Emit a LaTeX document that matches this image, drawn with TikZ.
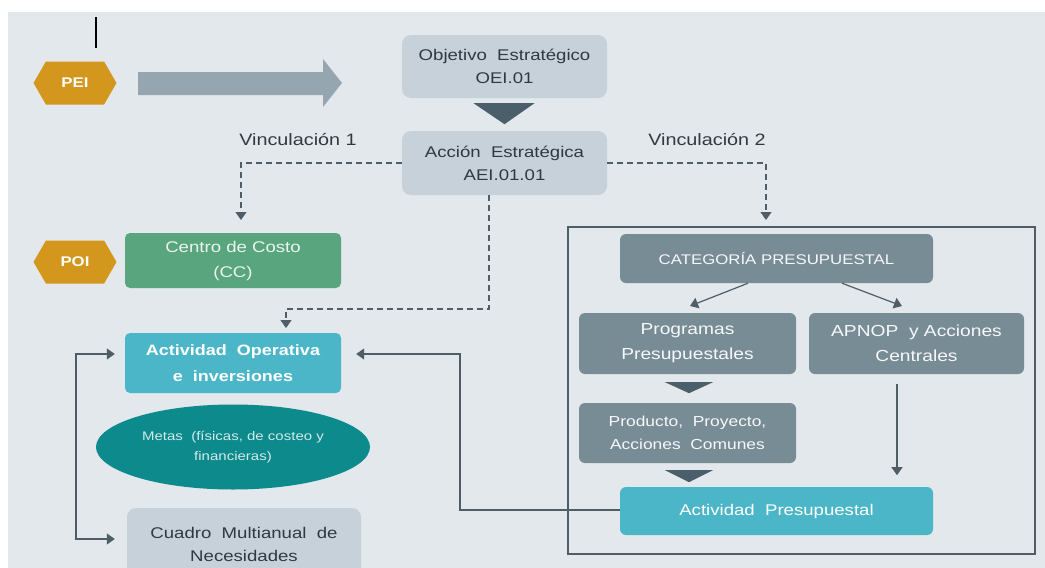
\documentclass[tikz,border=0pt]{standalone}
\usepackage{fontspec}
\setmainfont{Liberation Sans}[FakeStretch=1.2]
\usetikzlibrary{shapes.geometric,shapes.symbols,arrows.meta,calc}
\definecolor{bgc}{HTML}{E2E8EB}
\definecolor{gold}{HTML}{D4971E}
\definecolor{bigarrow}{HTML}{95A6B1}
\definecolor{lightbox}{HTML}{C6D1D9}
\definecolor{darktxt}{HTML}{2F3A40}
\definecolor{chev}{HTML}{4B5F6B}
\definecolor{lnc}{HTML}{4F5E66}
\definecolor{greenbox}{HTML}{59A57E}
\definecolor{tealbox}{HTML}{4CB6C9}
\definecolor{ellc}{HTML}{0D8A8C}
\definecolor{slate}{HTML}{788C96}
\tikzset{
  hexa/.style={signal, signal to=west and east, signal pointer angle=120, fill=gold, draw=none,
    minimum width=83pt, minimum height=43pt, inner sep=0pt, text=white, font=\fontsize{14}{16}\selectfont\bfseries},
  lbox/.style={rectangle, rounded corners=9pt, fill=lightbox, draw=none, text=darktxt, align=center,
    inner sep=0pt, font=\fontsize{15.5}{23}\selectfont},
  sbox/.style={rectangle, rounded corners=6pt, fill=slate, draw=none, text=white!94!slate, align=center,
    inner sep=0pt, font=\fontsize{16}{25}\selectfont},
  conn/.style={draw=lnc, line width=1.2pt},
  dsh/.style={draw=lnc, line width=1.2pt, dash pattern=on 6pt off 4pt},
  tip/.style={-{Triangle[width=11pt,length=8pt]}},
  lbl/.style={text=darktxt, font=\fontsize{16.5}{19}\selectfont, inner sep=0pt},
}
\begin{document}
\begin{tikzpicture}[x=1pt,y=-1pt]
\useasboundingbox (0,0) rectangle (1045,568);
\clip (0,0) rectangle (1045,568);
\fill[white] (0,0) rectangle (1045,568);
\fill[bgc] (8,12) rectangle (1045,568);
% stray mark
\draw[black, line width=2pt] (96,17) -- (96,48);

% PEI and big arrow
\node[hexa] (pei) at (75,83) {PEI};
\fill[bigarrow] (138,72) -- (323,72) -- (323,59) -- (342,83) -- (323,107) -- (323,95) -- (138,95) -- cycle;

% top boxes
\node[lbox, minimum width=205pt, minimum height=63pt] (obj) at (504.5,66.5) {Objetivo \ Estratégico\\OEI.01};
\node[lbox, minimum width=205pt, minimum height=64pt] (acc) at (504.5,163) {Acción \ Estratégica\\AEI.01.01};
\fill[chev] ($(obj.south)+(-31,5)$) -- ($(obj.south)+(30,5)$) -- ($(obj.south)+(0,26)$) -- cycle;

\node[lbl] (v1) at (298,140) {Vinculación 1};
\node[lbl] (v2) at (707,140) {Vinculación 2};

% left branch
\node[hexa] (poi) at (75,262) {POI};
\node[rectangle, rounded corners=5pt, fill=greenbox, minimum width=216pt, minimum height=55pt, inner sep=0pt,
  text=white!88!greenbox, align=center, font=\fontsize{15.5}{25}\selectfont] (cc) at (233,260.5) {Centro de Costo\\(CC)};
\node[rectangle, rounded corners=5pt, fill=tealbox, minimum width=216pt, minimum height=60pt, inner sep=0pt,
  text=white, align=center, font=\fontsize{15}{26}\selectfont\bfseries] (ao) at (233,363) {Actividad \ Operativa\\e \ inversiones};
\node[ellipse, fill=ellc, minimum width=274pt, minimum height=85pt, inner sep=0pt, text=white!82!ellc,
  align=center, font=\fontsize{12.5}{20}\selectfont] (metas) at (233,447) {Metas \ (físicas, de costeo y\\financieras)};
\node[lbox, minimum width=234pt, minimum height=72pt] (cmn) at (244,544) {Cuadro \ Multianual \ de\\Necesidades};

% right group
\draw[draw=lnc, line width=1.2pt] (568,227) rectangle (1035,554);
\node[sbox, minimum width=313pt, minimum height=49pt, font=\fontsize{14}{17}\selectfont] (cat) at (776.5,258.5) {CATEGORÍA PRESUPUESTAL};
\node[sbox, minimum width=217pt, minimum height=61pt] (prog) at (687.5,343.5) {Programas\\Presupuestales};
\node[sbox, minimum width=215pt, minimum height=61pt] (apnop) at (916.5,343.5) {APNOP \ y Acciones\\Centrales};
\node[sbox, minimum width=217pt, minimum height=60pt, font=\fontsize{14.5}{23}\selectfont] (prod) at (687.5,433) {Producto, \ Proyecto,\\Acciones \ Comunes};
\node[rectangle, rounded corners=6pt, fill=tealbox, minimum width=313pt, minimum height=48pt, inner sep=0pt,
  text=white, font=\fontsize{15.5}{18}\selectfont] (ap) at (776.5,511) {Actividad \ Presupuestal};

\fill[chev] ($(prog.south)+(-22.5,8)$) -- ($(prog.south)+(25.5,8)$) -- ($(prog.south)+(1.5,19)$) -- cycle;
\fill[chev] ($(prod.south)+(-22.5,7)$) -- ($(prod.south)+(25.5,7)$) -- ($(prod.south)+(1.5,19)$) -- cycle;

% connectors
\draw[dsh, tip] (acc.west) -- (241,163) -- (241,220);
\draw[dsh, tip] (acc.east) -- (766,163) -- (766,220);
\draw[dsh, tip] (acc.south -| 489,0) -- (489,309) -- (286,309) -- (286,328);
\draw[conn, tip] ($(cat.south)+(-28.5,0)$) -- (690,306);
\draw[conn, tip] ($(cat.south)+(65.5,0)$) -- (902,306);
\draw[conn, tip] ($(apnop.south)+(-19.5,10)$) -- ($(apnop.south)+(-19.5,101)$);
\coordinate (lf1) at (76,354);
\coordinate (lf2) at (76,539);
\draw[conn, {Triangle[width=11pt,length=8pt]}-{Triangle[width=11pt,length=8pt]}]
  ([xshift=-10pt]ao.west |- lf1) -- (lf1) -- (lf2) -- ([xshift=-12pt]cmn.west |- lf2);
\coordinate (rf1) at (460,510);
\coordinate (rf2) at (460,354);
\draw[conn, tip] (ap.west |- rf1) -- (rf1) -- (rf2) -- ([xshift=15pt]ao.east |- rf2);
\end{tikzpicture}
\end{document}
